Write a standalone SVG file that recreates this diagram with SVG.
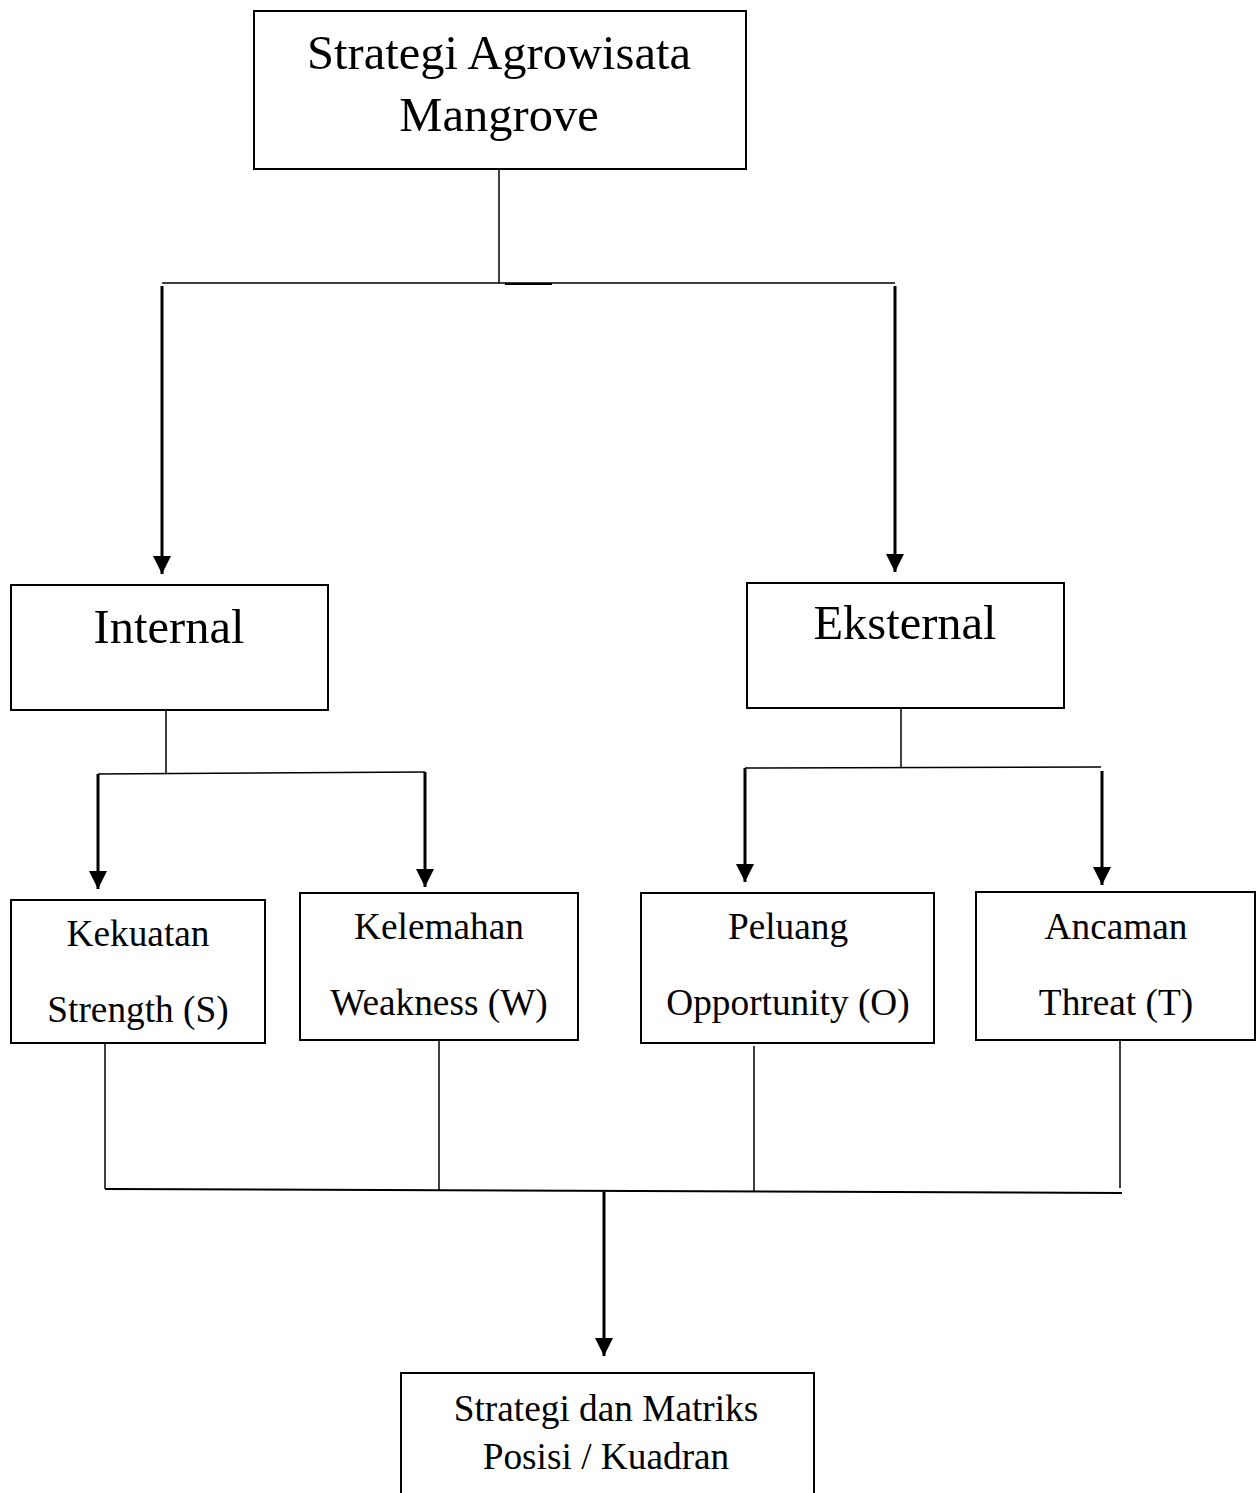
<svg xmlns="http://www.w3.org/2000/svg" width="1259" height="1493" viewBox="0 0 1259 1493">
<style>
.box{fill:#fff;stroke:#000;stroke-width:2}
.ln{stroke:#000;stroke-width:1.5;fill:none}
.ar{stroke:#000;stroke-width:3;fill:none}
text{font-family:"Liberation Serif","Times New Roman",serif;fill:#000;text-anchor:middle}
.t1{font-size:48.5px}
.t2{font-size:37.3px}
</style>
<defs>
<marker id="ah2" markerWidth="18" markerHeight="18" refX="18" refY="9" orient="auto" markerUnits="userSpaceOnUse">
<path d="M0,0 L18,9 L0,18 Z" fill="#000"/>
</marker>
</defs>
<rect width="1259" height="1493" fill="#fff"/>
<g id="connectors">
<line class="ln" x1="499" y1="169" x2="499" y2="283"/>
<line class="ln" x1="162" y1="283" x2="895" y2="283"/>
<line x1="505" y1="284" x2="552" y2="284" stroke="#000" stroke-width="2"/>
<line class="ar" x1="162" y1="286" x2="162" y2="574" marker-end="url(#ah2)"/>
<line class="ar" x1="895" y1="286" x2="895" y2="572" marker-end="url(#ah2)"/>
<line class="ln" x1="166" y1="710" x2="166" y2="773"/>
<line class="ln" x1="98" y1="774" x2="425" y2="772"/>
<line class="ar" x1="98" y1="774" x2="98" y2="889" marker-end="url(#ah2)"/>
<line class="ar" x1="425" y1="772" x2="425" y2="887" marker-end="url(#ah2)"/>
<line class="ln" x1="901" y1="708" x2="901" y2="767"/>
<line class="ln" x1="745" y1="768" x2="1101" y2="767"/>
<line class="ar" x1="745" y1="768" x2="745" y2="882" marker-end="url(#ah2)"/>
<line class="ar" x1="1102" y1="771" x2="1102" y2="885" marker-end="url(#ah2)"/>
<line class="ln" x1="105" y1="1043" x2="105" y2="1189"/>
<line class="ln" x1="439" y1="1040" x2="439" y2="1190"/>
<line class="ln" x1="754" y1="1046" x2="754" y2="1192"/>
<line class="ln" x1="1120" y1="1040" x2="1120" y2="1188"/>
<line x1="105" y1="1189" x2="1122" y2="1193" stroke="#000" stroke-width="2"/>
<line class="ar" x1="604" y1="1192" x2="604" y2="1356" marker-end="url(#ah2)"/>
</g>
<g id="node-top">
<rect class="box" x="254" y="11" width="492" height="158"/>
<text class="t1" x="499" y="69">Strategi Agrowisata</text>
<text class="t1" x="499" y="131">Mangrove</text>
</g>
<g id="node-internal">
<rect class="box" x="11" y="585" width="317" height="125"/>
<text class="t1" x="169" y="643">Internal</text>
</g>
<g id="node-eksternal">
<rect class="box" x="747" y="583" width="317" height="125"/>
<text class="t1" x="905" y="639">Eksternal</text>
</g>
<g id="node-s">
<rect class="box" x="11" y="900" width="254" height="143"/>
<text class="t2" x="138" y="946">Kekuatan</text>
<text class="t2" x="138" y="1022">Strength (S)</text>
</g>
<g id="node-w">
<rect class="box" x="300" y="893" width="278" height="147"/>
<text class="t2" x="439" y="939">Kelemahan</text>
<text class="t2" x="439" y="1015">Weakness (W)</text>
</g>
<g id="node-o">
<rect class="box" x="641" y="893" width="293" height="150"/>
<text class="t2" x="788" y="939">Peluang</text>
<text class="t2" x="788" y="1015">Opportunity (O)</text>
</g>
<g id="node-t">
<rect class="box" x="976" y="892" width="279" height="148"/>
<text class="t2" x="1116" y="939">Ancaman</text>
<text class="t2" x="1116" y="1015">Threat (T)</text>
</g>
<g id="node-result">
<rect class="box" x="401" y="1373" width="413" height="130"/>
<text class="t2" x="606" y="1421">Strategi dan Matriks</text>
<text class="t2" x="606" y="1469">Posisi / Kuadran</text>
</g>
</svg>
